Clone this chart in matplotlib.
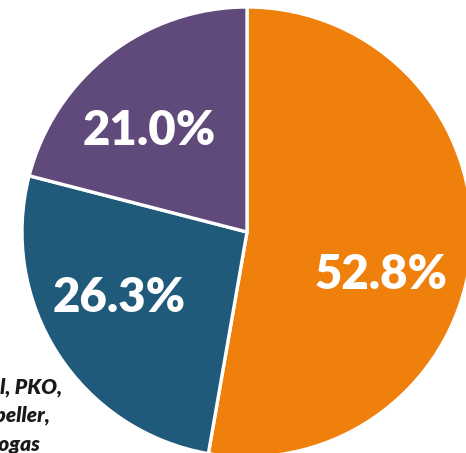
import matplotlib as mpl

mpl.use("Agg")
import matplotlib.pyplot as plt

shares = [52.8, 26.3, 21.0]
colors = ["#EF800B", "#1F5A7B", "#604A7B"]
# label anchor points, pixel coords (x, y from top)
label_pos = [(381, 275), (119, 298), (149, 131)]
side_lines = ["Palm oil, PKO,", "kernel expeller,", "and biogas"]
side_right = [62, 50, 40]
side_y = [387, 415, 445]

W, H = 466, 453
fig = plt.figure(figsize=(W / 100, H / 100), dpi=100)
ax = fig.add_axes([0, 0, 1, 1])

wedges, texts = ax.pie(
    shares,
    colors=colors,
    startangle=90,
    counterclock=False,
    center=(247, H - 232),
    radius=225,
    wedgeprops=dict(edgecolor="white", linewidth=2.4),
    frame=True,
)
for val, (px, py) in zip(shares, label_pos):
    ax.text(px, H - py, "%.1f%%" % val, ha="center", va="center",
            color="white", fontsize=34, fontweight="heavy", family="Lato")

ax.set_xlim(0, W)
ax.set_ylim(0, H)
ax.set_aspect("equal")
ax.axis("off")

for line, xr, yc in zip(side_lines, side_right, side_y):
    ax.text(xr, H - yc, line, ha="right", va="center",
            fontsize=15, fontweight="heavy", fontstyle="italic",
            family="Lato", color="#1a1a1a")

fig.savefig("out.png", dpi=100)
